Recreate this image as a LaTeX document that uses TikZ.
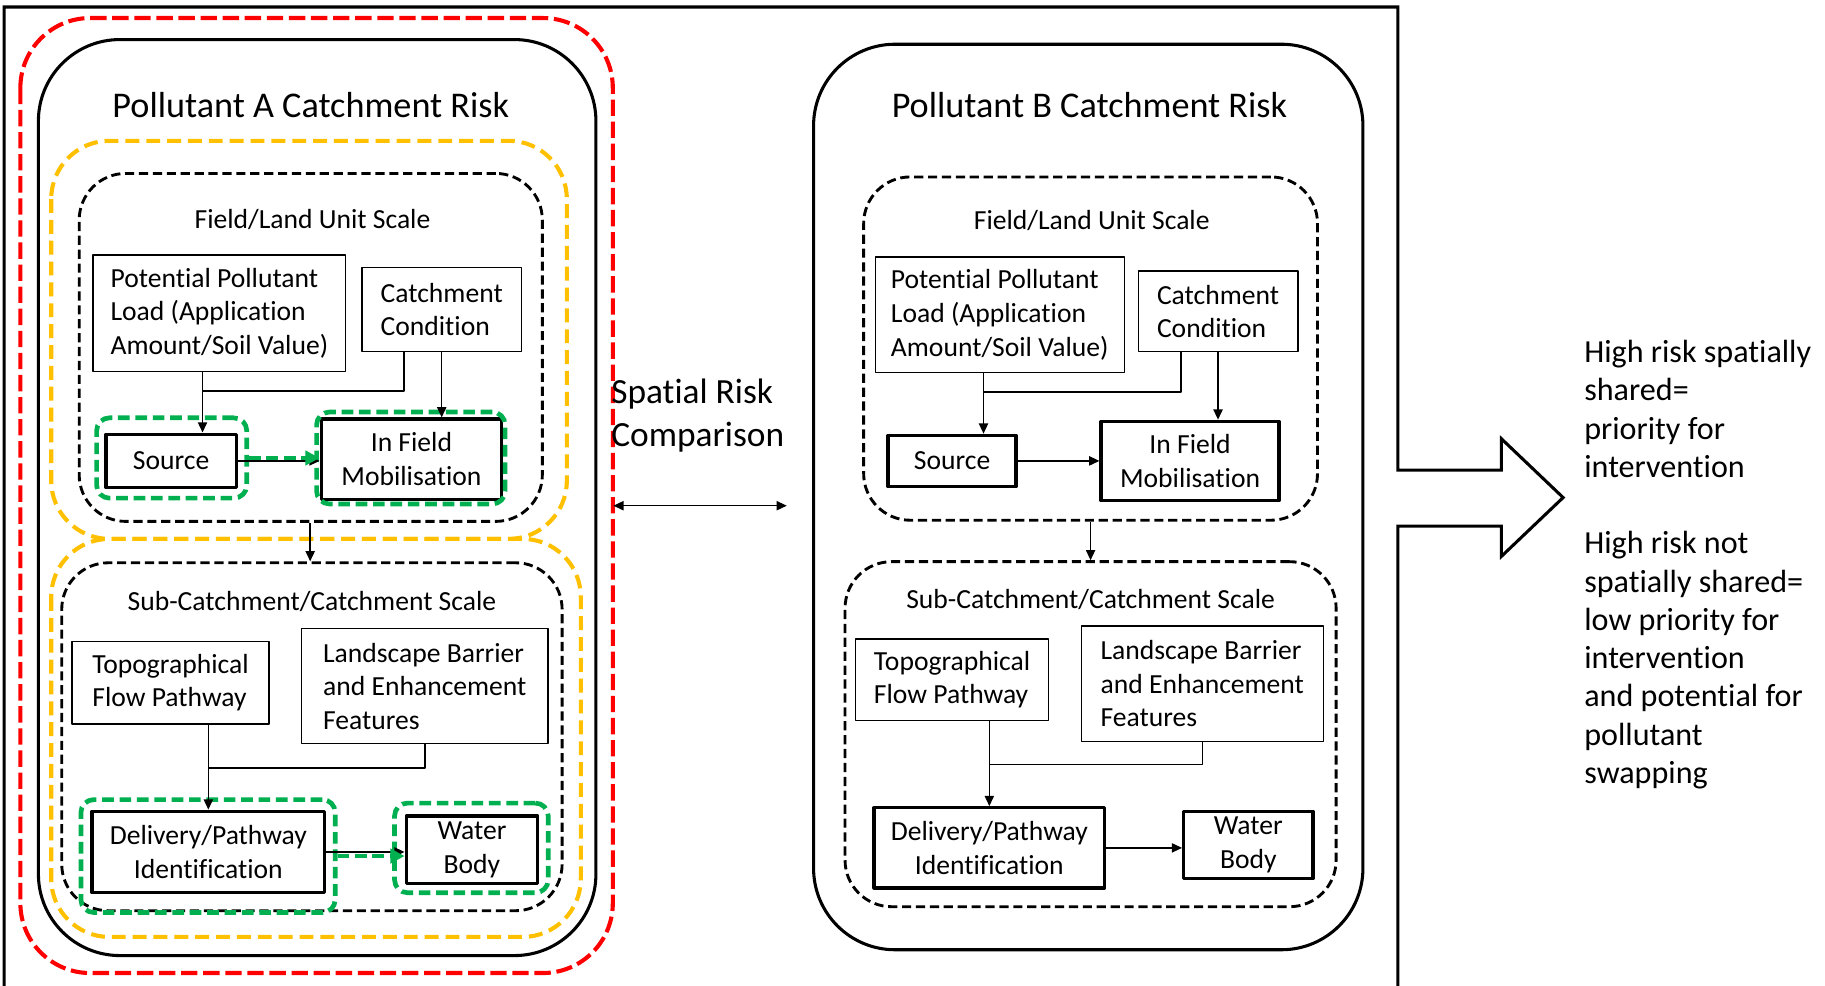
\documentclass[tikz,border=0pt]{standalone}
\usepackage{fontspec}
\setmainfont{Carlito}[Ligatures=NoCommon]
\usetikzlibrary{arrows.meta}
\definecolor{riskred}{RGB}{255,0,0}
\definecolor{scaleamber}{RGB}{255,192,0}
\definecolor{hotgreen}{RGB}{0,176,80}
\newcommand{\boxfont}{\fontsize{13.5}{16.4}\selectfont}
\begin{document}
\begin{tikzpicture}[x=0.02cm, y=-0.02cm, line join=round, font=\boxfont, >={Triangle[length=5pt,width=4.5pt]}]
	\tikzset{thinbox/.style={draw, line width=0.75pt, inner sep=0pt, align=left},
		thickbox/.style={draw, line width=1.6pt, inner sep=0pt, align=center},
		scalebox/.style={draw, line width=1.4pt, dash pattern=on 4.5pt off 2.3pt, rounded corners=0.8cm, inner sep=0pt},
		riskbox/.style={line width=1.5pt, rounded corners=1.4cm},
		greenring/.style={draw=hotgreen, line width=2.3pt, dash pattern=on 5.7pt off 2.8pt, rounded corners=0.22cm, inner sep=0pt},
		greenarrow/.style={draw=hotgreen, line width=2.3pt, dash pattern=on 5.7pt off 2.8pt, -{Triangle[length=7pt,width=7pt]}},
		link/.style={line width=0.75pt}}
	\useasboundingbox[fill=white] (0,0) rectangle (1568,847);
	% outer frame with the outcome arrow
	\draw[line width=1.5pt, line join=miter] (3.5,880) -- (3.5,6) -- (1201,6) -- (1201,404) -- (1290,404) -- (1290,377)
		-- (1343,427.5) -- (1290,478) -- (1290,452) -- (1201,452) -- (1201,880);
	
	% pollutant A
	\draw[line width=2pt, draw=riskred, dash pattern=on 8pt off 2.8pt, rounded corners=1.2cm] (17.5,15.5) rectangle (526.5,836);
	\draw[riskbox] (33,34) rectangle (512,821);
	\draw[line width=2pt, draw=scaleamber, dash pattern=on 6.8pt off 3.4pt, rounded corners=1cm] (44,121) rectangle (487,463);
	\draw[line width=2pt, draw=scaleamber, dash pattern=on 6.8pt off 3.4pt, rounded corners=1cm] (44,463) rectangle (499,805);
	\node[anchor=base, font=\fontsize{17.7}{21}\selectfont] (titleA) at (267,101) {Pollutant A Catchment Risk};
	\node[scalebox, minimum width=7.96cm, minimum height=5.98cm] (fieldA) at (267,298.5) {};
	\node[scalebox, minimum width=8.6cm, minimum height=5.98cm] (subA) at (268,633) {};
	\node[anchor=base] (fieldAlab) at (268.5,196.4) {Field/Land Unit Scale};
	\node[anchor=base] (subAlab) at (268,524.6) {Sub-Catchment/Catchment Scale};
	\node[thinbox, minimum width=4.34cm, minimum height=2cm] (potA) at (188.5,269) {Potential Pollutant\\Load (Application\\Amount/Soil Value)};
	\node[thinbox, minimum width=2.74cm, minimum height=1.44cm] (condA) at (379.5,266) {Catchment\\Condition};
	\node[thickbox, minimum width=2.24cm, minimum height=0.92cm] (srcA) at (147,396) {Source};
	\node[thickbox, minimum width=3.1cm, minimum height=1.38cm] (mobA) at (353.5,394.5) {In Field\\Mobilisation};
	\node[thinbox, minimum width=3.38cm, minimum height=1.42cm] (topoA) at (146.5,586.5) {Topographical\\Flow Pathway};
	\node[thinbox, minimum width=4.24cm, minimum height=1.98cm] (landA) at (365,589.5) {Landscape Barrier\\and Enhancement\\Features};
	\node[thickbox, minimum width=4cm, minimum height=1.4cm] (delA) at (179,732) {Delivery/Pathway\\Identification};
	\node[thickbox, minimum width=2.26cm, minimum height=1.16cm] (watA) at (405.5,730) {Water\\Body};
	\node[greenring, minimum width=2.58cm, minimum height=1.38cm] (srcAring) at (147.5,393.5) {};
	\node[greenring, minimum width=3.24cm, minimum height=1.58cm] (mobAring) at (353,393.5) {};
	\node[greenring, minimum width=4.37cm, minimum height=1.94cm] (delAring) at (178.75,735.5) {};
	\node[greenring, minimum width=2.64cm, minimum height=1.54cm] (watAring) at (405,728.5) {};
	\coordinate (jsA) at (174,336);
	\coordinate (jcA) at (347,336);
	\coordinate (jpA) at (179,660);
	\draw[link, ->] (jsA |- potA.south) -- (jsA |- srcA.north);
	\draw[link] (jcA |- condA.south) -- (jcA) -- (jsA);
	\draw[link, ->] (condA.south) -- (condA.south |- mobA.north);
	\draw[link, ->] (srcA.east) -- (srcA.east -| mobA.west);
	\draw[greenarrow] (srcAring.east) -- (srcAring.east -| mobA.west);
	\draw[link, ->] (fieldA.south -| 266.5,0) -- (subA.north -| 266.5,0);
	\draw[link, ->] (delA.north |- topoA.south) -- (delA.north);
	\draw[link] (landA.south) |- (jpA);
	\draw[link, ->] (delA.east) -- (delA.east -| watA.west);
	\draw[greenarrow] (delAring.east) -- (delAring.east -| watA.west);
	
	% comparison
	\node[anchor=base west, align=left, font=\fontsize{17.3}{21}\selectfont] (cmp) at (519,384) {Spatial Risk\\Comparison};
	\coordinate (cmpL) at (527,434.5);
	\coordinate (cmpR) at (676,434.5);
	\draw[link, <->] (cmpL) -- (cmpR);
	
	% pollutant B
	\draw[riskbox] (699,38) rectangle (1171,816);
	\node[anchor=base, font=\fontsize{17.7}{21}\selectfont] (titleB) at (936,101) {Pollutant B Catchment Risk};
	\node[scalebox, minimum width=7.8cm, minimum height=5.9cm] (fieldB) at (937,299.5) {};
	\node[scalebox, minimum width=8.44cm, minimum height=5.93cm] (subB) at (937,630.8) {};
	\node[anchor=base] (fieldBlab) at (938,197.6) {Field/Land Unit Scale};
	\node[anchor=base] (subBlab) at (937,523) {Sub-Catchment/Catchment Scale};
	\node[thinbox, minimum width=4.28cm, minimum height=1.98cm] (potB) at (859,270.5) {Potential Pollutant\\Load (Application\\Amount/Soil Value)};
	\node[thinbox, minimum width=2.74cm, minimum height=1.38cm] (condB) at (1046.5,267.5) {Catchment\\Condition};
	\node[thickbox, minimum width=2.2cm, minimum height=0.88cm] (srcB) at (818,396) {Source};
	\node[thickbox, minimum width=3.06cm, minimum height=1.36cm] (mobB) at (1022.5,396) {In Field\\Mobilisation};
	\node[thinbox, minimum width=3.32cm, minimum height=1.4cm] (topoB) at (818,584) {Topographical\\Flow Pathway};
	\node[thinbox, minimum width=4.16cm, minimum height=1.98cm] (landB) at (1033,587.5) {Landscape Barrier\\and Enhancement\\Features};
	\node[thickbox, minimum width=3.96cm, minimum height=1.38cm] (delB) at (850,728.5) {Delivery/Pathway\\Identification};
	\node[thickbox, minimum width=2.22cm, minimum height=1.16cm] (watB) at (1072.5,726) {Water\\Body};
	\coordinate (jsB) at (845,336.6);
	\coordinate (jcB) at (1014.6,336.6);
	\coordinate (jpB) at (850,657);
	\draw[link, ->] (jsB |- potB.south) -- (jsB |- srcB.north);
	\draw[link] (jcB |- condB.south) -- (jcB) -- (jsB);
	\draw[link, ->] (condB.south) -- (condB.south |- mobB.north);
	\draw[link, ->] (srcB.east) -- (srcB.east -| mobB.west);
	\draw[link, ->] (fieldB.south) -- (fieldB.south |- subB.north);
	\draw[link, ->] (delB.north |- topoB.south) -- (delB.north);
	\draw[link] (landB.south) |- (jpB);
	\draw[link, ->] (delB.east) -- (delB.east -| watB.west);
	
	% outcome
	\node[anchor=base west, align=left, font=\fontsize{15.7}{18.7}\selectfont] (verdict) at (1355,673) {High risk spatially\\shared=\\priority for\\intervention\\[18.7pt]High risk not\\spatially shared=\\low priority for\\intervention\\and potential for\\pollutant\\swapping};
\end{tikzpicture}
\end{document}
